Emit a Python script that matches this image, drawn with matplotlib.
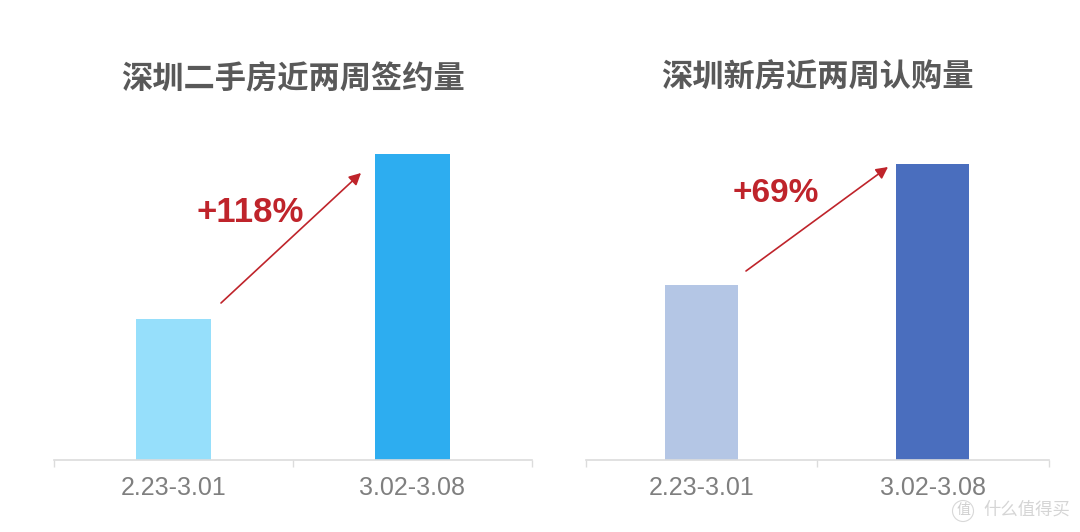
import matplotlib
matplotlib.use("Agg")
import matplotlib.pyplot as plt
from matplotlib.patches import FancyArrowPatch, Ellipse

plt.rcParams['font.family'] = ['Noto Sans CJK SC', 'DejaVu Sans']

W, H = 1080, 532
categories = ["2.23-3.01", "3.02-3.08"]
left_title = "深圳二手房近两周签约量"
right_title = "深圳新房近两周认购量"
left_values = [100, 217]
right_values = [100, 169]
left_colors = ["#96DFFB", "#2DADF0"]
right_colors = ["#B4C6E5", "#4A6EBE"]
left_label = "+118%"
right_label = "+69%"
RED = "#BF242B"
GRAY = "#7F7F7F"


def px_rect(x0, x1, ytop, ybot):
    return [x0 / W, 1 - ybot / H, (x1 - x0) / W, (ybot - ytop) / H]


fig = plt.figure(figsize=(W / 100, H / 100), dpi=100, facecolor="white")


def panel(rect, values, colors, ymax, bw):
    ax = fig.add_axes(rect)
    ax.bar([0, 1], values, width=bw, color=colors, linewidth=0)
    ax.set_xlim(-0.5, 1.5)
    ax.set_ylim(0, ymax)
    for s in ("left", "right", "top"):
        ax.spines[s].set_visible(False)
    ax.spines["bottom"].set_color("#DCDCDC")
    ax.spines["bottom"].set_linewidth(1.2)
    ax.set_yticks([])
    ax.set_xticks([-0.5, 0.5, 1.5])
    ax.tick_params(axis="x", length=5, width=1, color="#DCDCDC", direction="out", labelbottom=False)
    for i, c in enumerate(categories):
        ax.annotate(c, (i, 0), xytext=(0, -20), textcoords="offset points",
                    ha="center", va="center", fontsize=18, color=GRAY,
                    family="Liberation Sans")
    return ax


# 320 px tall axes, baseline at y=460
panel(px_rect(54, 532, 140, 460), left_values, left_colors, 320 / 1.41, 75 / 239)
panel(px_rect(585.5, 1048.5, 140, 460), right_values, right_colors, 320 / 1.75, 73 / 231.5)


def ftext(x, y, s, **kw):
    fig.text(x / W, 1 - y / H, s, ha="center", va="center", **kw)


ftext(293, 79, left_title, fontsize=22.5, fontweight="bold", color="#595959")
ftext(817, 77, right_title, fontsize=22.5, fontweight="bold", color="#595959")
ftext(250, 212, left_label, fontsize=25, fontweight="bold", color=RED, family="Liberation Sans")
ftext(776, 194, right_label, fontsize=24, fontweight="bold", color=RED, family="Liberation Sans")


def arrow(x0, y0, x1, y1):
    fig.add_artist(FancyArrowPatch(
        (x0 / W, 1 - y0 / H), (x1 / W, 1 - y1 / H), transform=fig.transFigure,
        arrowstyle="-|>,head_length=7,head_width=3.6", color=RED, linewidth=1.2,
        shrinkA=0, shrinkB=0))


arrow(221, 303, 361, 173)
arrow(746, 271, 888, 167)

# watermark
fig.add_artist(Ellipse((963 / W, 1 - 511 / H), 21 / W, 21 / H,
                       transform=fig.transFigure, fill=False,
                       edgecolor="#D8D8D8", linewidth=0.8))
ftext(963, 510, "值", fontsize=10, color="#CFCFCF")
ftext(1027, 510, "什么值得买", fontsize=12.5, color="#D5D5D5")

fig.savefig("out.png", dpi=100, facecolor="white")
